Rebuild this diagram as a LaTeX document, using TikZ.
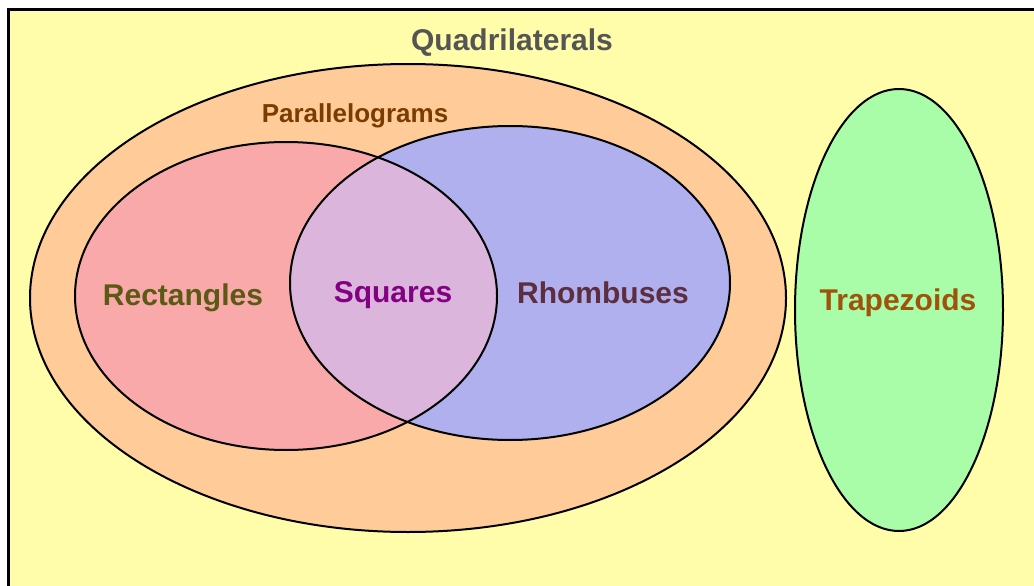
\documentclass[tikz,border=0pt]{standalone}
\usepackage{fontspec}
\setmainfont{Liberation Sans}
\definecolor{quadfill}{HTML}{FFFCAA}
\definecolor{parfill}{HTML}{FFCC99}
\definecolor{recfill}{HTML}{F9A9A9}
\definecolor{rhofill}{HTML}{B0B0EE}
\definecolor{squfill}{HTML}{DBB5DC}
\definecolor{trafill}{HTML}{A9FDA9}
\definecolor{quadtext}{HTML}{555555}
\definecolor{partext}{HTML}{7A3C00}
\definecolor{rectext}{HTML}{5A5A14}
\definecolor{squtext}{HTML}{820082}
\definecolor{rhotext}{HTML}{5C2E40}
\definecolor{tratext}{HTML}{A0520A}

\begin{document}
\begin{tikzpicture}[x=1pt,y=-1pt,
  outline/.style={draw=black,line width=2pt},
  lab/.style={font=\fontsize{30}{36}\selectfont\bfseries,inner sep=0pt}]
\useasboundingbox (0,0) rectangle (1034,586);
\clip (0,0) rectangle (1034,586);
\fill[quadfill,draw=black,line width=3pt] (8,10) rectangle (1060,620);
\coordinate (par) at (408,298);
\coordinate (rec) at (286,296);
\coordinate (rho) at (510,283);
\coordinate (tra) at (899,310);
\draw[outline,fill=parfill] (par) ellipse [x radius=378,y radius=234];
\fill[recfill] (rec) ellipse [x radius=211,y radius=154];
\fill[rhofill] (rho) ellipse [x radius=220,y radius=157];
\begin{scope}
  \clip (rec) ellipse [x radius=211,y radius=154];
  \fill[squfill] (rho) ellipse [x radius=220,y radius=157];
\end{scope}
\draw[outline] (rec) ellipse [x radius=211,y radius=154];
\draw[outline] (rho) ellipse [x radius=220,y radius=157];
\draw[outline,fill=trafill] (tra) ellipse [x radius=104,y radius=221];
\node[lab,text=quadtext] (quad) at (512,43) {Quadrilaterals};
\node[lab,text=partext,font=\fontsize{26}{31}\selectfont\bfseries] (paral) at (355,116) {Parallelograms};
\node[lab,text=rectext] (rect) at (183,298) {Rectangles};
\node[lab,text=squtext] (squ) at (393,295) {Squares};
\node[lab,text=rhotext] (rhom) at (603,293) {Rhombuses};
\node[lab,text=tratext] (trap) at (898,303) {Trapezoids};
\end{tikzpicture}
\end{document}
